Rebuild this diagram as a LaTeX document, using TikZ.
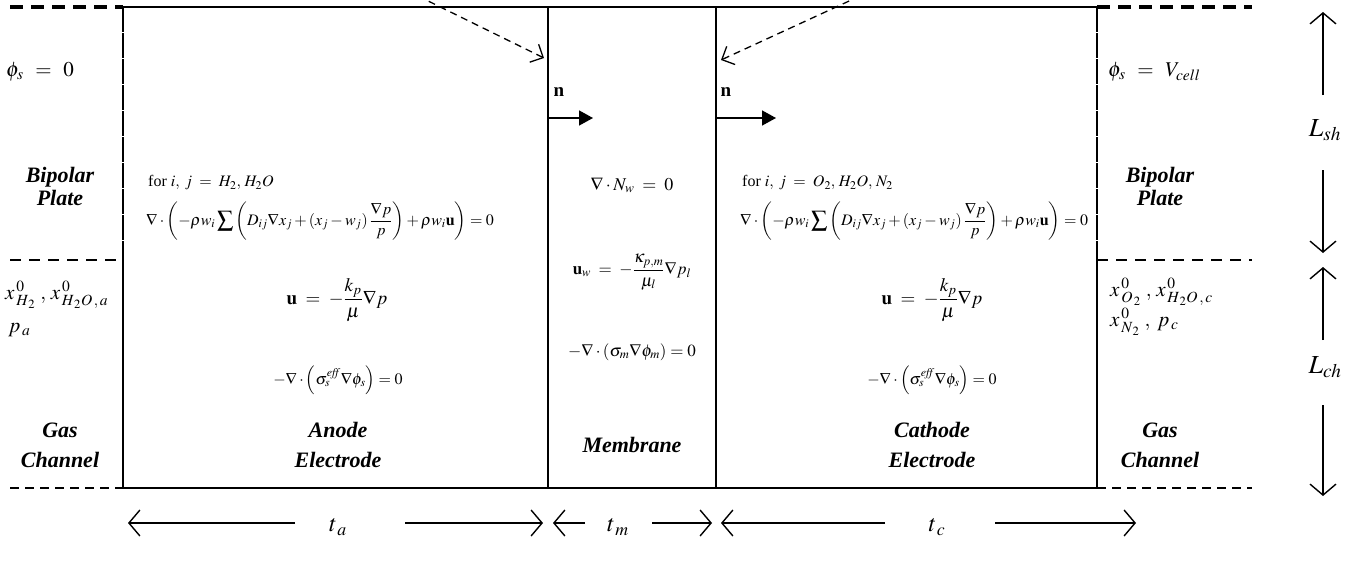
\documentclass[tikz,border=0pt]{standalone}
\usepackage{mathptmx}
\usepackage{fontspec}
\setmainfont{Liberation Serif}
\usetikzlibrary{arrows.meta}
\begin{document}
\begin{tikzpicture}[x=1pt,y=-1pt,
  lbl/.style={font=\fontsize{22}{23}\selectfont\bfseries\itshape, align=center, inner sep=0pt},
  lbllow/.style={font=\fontsize{22}{30}\selectfont\bfseries\itshape, align=center, inner sep=0pt},
  eqn/.style={font=\fontsize{16}{18}\selectfont, inner sep=0pt},
  bc/.style={font=\fontsize{21}{24}\selectfont, inner sep=0pt, anchor=west},
  dimlbl/.style={font=\fontsize{24}{26}\selectfont, inner sep=0pt},
  dimarrow/.style={line width=1.8pt, -{Straight Barb[length=11pt,width=26pt,line width=1.4pt]}},
  ptr/.style={line width=1.3pt, dash pattern=on 7pt off 5pt, -{Straight Barb[length=10pt,width=20pt,line width=1.3pt]}},
  normal/.style={line width=1.5pt, -{Triangle[length=14pt,width=15pt]}},
  wall/.style={line width=2pt},
  thinwall/.style={line width=2pt, dash pattern=on 25pt off 1pt},
  topdash/.style={line width=3.5pt, dash pattern=on 13pt off 8pt},
  middash/.style={line width=1.8pt, dash pattern=on 11pt off 8pt},
  botdash/.style={line width=1.3pt, dash pattern=on 9pt off 6pt}]
\useasboundingbox (0,0) rectangle (1353,563);

% frame coordinates
\coordinate (TL) at (123,7);
\coordinate (TR) at (1097,7);
\coordinate (ML) at (123,260);
\coordinate (MR) at (1097,260);
\coordinate (BL) at (123,488);
\coordinate (BR) at (1097,488);
\coordinate (M1T) at (548,7);
\coordinate (M1B) at (548,488);
\coordinate (M2T) at (716,7);
\coordinate (M2B) at (716,488);

\draw[wall] (TL) -- (TR);
\draw[wall] (ML) -- (BL) -- (BR) -- (MR);
\draw[thinwall] (TL) -- (ML);
\draw[thinwall] (TR) -- (MR);
\draw[wall] (M1T) -- (M1B);
\draw[wall] (M2T) -- (M2B);

% outside dashed lines
\coordinate (LT0) at (10,7);
\coordinate (RT0) at (1252,7);
\coordinate (LM0) at (10,260);
\coordinate (RM0) at (1252,260);
\coordinate (LB0) at (10,488);
\coordinate (RB0) at (1252,488);
\draw[topdash] (LT0) -- (TL);
\draw[topdash] (TR) -- (RT0);
\draw[middash] (LM0) -- (ML);
\draw[middash] (MR) -- (RM0);
\draw[botdash] (LB0) -- (BL);
\draw[botdash] (BR) -- (RB0);

% dashed pointers from above
\coordinate (S1) at (418,-4);
\coordinate (E1) at (544,58);
\coordinate (S2) at (860,-4);
\coordinate (E2) at (721,60);
\draw[ptr] (S1) -- (E1);
\draw[ptr] (S2) -- (E2);

% normal vectors
\node[font=\fontsize{19}{20}\selectfont\bfseries, inner sep=0pt] (n1) at (559,92) {n};
\node[font=\fontsize{19}{20}\selectfont\bfseries, inner sep=0pt] (n2) at (726,92) {n};
\coordinate (N1a) at (548,118);
\coordinate (N1b) at (593,118);
\coordinate (N2a) at (716,118);
\coordinate (N2b) at (776,118);
\draw[normal] (N1a) -- (N1b);
\draw[normal] (N2a) -- (N2b);

% left labels
\node[bc] (phil) at (6,72) {$\phi_s\;\, =\;\, 0$};
\node[lbl] (bpl) at (60,186) {Bipolar\\Plate};
\node[bc] (xl) at (5,295) {$x^{\,0}_{\,H_{\,2}}\;,\, x^{\,0}_{\,H_{\,2}O\,,\,a}$};
\node[bc] (pal) at (8,330) {$p_{\,a}$};
\node[lbllow] (gcl) at (60,445) {Gas\\Channel};

% right labels
\node[bc] (phir) at (1108,72) {$\phi_s\;\, =\;\, V_{cell}$};
\node[lbl] (bpr) at (1160,186) {Bipolar\\Plate};
\node[bc] (xr1) at (1110,292) {$x^{\,0}_{\,O_{\,2}}\;,\, x^{\,0}_{\,H_{\,2}O\,,\,c}$};
\node[bc] (xr2) at (1110,322) {$x^{\,0}_{\,N_{\,2}}\;,\; p_{\,c}$};
\node[lbllow] (gcr) at (1160,445) {Gas\\Channel};

% anode
\node[eqn, anchor=west] (afor) at (148,183) {for $i,\; j \;=\; H_2,\, H_2O$};
\node[eqn, anchor=west] (aeq) at (146,221) {$\displaystyle \nabla\cdot\left(-\rho w_i\sum\left(D_{ij}\nabla x_j+\left(x_j-w_j\right)\frac{\nabla p}{p}\right)+\rho w_i\mathbf{u}\right)=0$};
\node[eqn, font=\fontsize{19}{21}\selectfont] (au) at (337,300) {$\displaystyle \mathbf{u}\;=\;-\frac{k_p}{\mu}\nabla p$};
\node[eqn, font=\fontsize{16}{18}\selectfont] (as) at (338,380) {$-\nabla\cdot\left(\sigma_s^{\mathit{eff}}\nabla\phi_s\right)=0$};
\node[lbllow] (anode) at (338,445) {Anode\\Electrode};

% membrane
\node[eqn, font=\fontsize{18}{20}\selectfont] (mn) at (632,185) {$\nabla\cdot N_w\;=\;0$};
\node[eqn, font=\fontsize{17}{19}\selectfont] (mu) at (632,272) {$\displaystyle \mathbf{u}_w\;=\;-\frac{\kappa_{p,m}}{\mu_l}\nabla p_l$};
\node[eqn, font=\fontsize{17}{19}\selectfont] (ms) at (632,352) {$-\nabla\cdot\left(\sigma_m\nabla\phi_m\right)=0$};
\node[lbllow] (mem) at (632,445) {Membrane};

% cathode
\node[eqn, anchor=west] (cfor) at (742,183) {for $i,\; j \;=\; O_2,\, H_2O,\, N_2$};
\node[eqn, anchor=west] (ceq) at (740,221) {$\displaystyle \nabla\cdot\left(-\rho w_i\sum\left(D_{ij}\nabla x_j+\left(x_j-w_j\right)\frac{\nabla p}{p}\right)+\rho w_i\mathbf{u}\right)=0$};
\node[eqn, font=\fontsize{19}{21}\selectfont] (cu) at (932,300) {$\displaystyle \mathbf{u}\;=\;-\frac{k_p}{\mu}\nabla p$};
\node[eqn, font=\fontsize{16}{18}\selectfont] (cs) at (932,380) {$-\nabla\cdot\left(\sigma_s^{\mathit{eff}}\nabla\phi_s\right)=0$};
\node[lbllow] (cath) at (932,445) {Cathode\\Electrode};

% thickness dimensions
\node[dimlbl] (ta) at (338,527) {$t_{\,a}$};
\node[dimlbl] (tm) at (618,527) {$t_{\,m}$};
\node[dimlbl] (tc) at (937,527) {$t_{\,c}$};
\coordinate (ta1) at (295,523); \coordinate (ta1e) at (128,523);
\coordinate (ta2) at (405,523); \coordinate (ta2e) at (543,523);
\coordinate (tm1) at (585,523); \coordinate (tm1e) at (553,523);
\coordinate (tm2) at (652,523); \coordinate (tm2e) at (712,523);
\coordinate (tc1) at (885,523); \coordinate (tc1e) at (721,523);
\coordinate (tc2) at (995,523); \coordinate (tc2e) at (1136,523);
\draw[dimarrow] (ta1) -- (ta1e);
\draw[dimarrow] (ta2) -- (ta2e);
\draw[dimarrow] (tm1) -- (tm1e);
\draw[dimarrow] (tm2) -- (tm2e);
\draw[dimarrow] (tc1) -- (tc1e);
\draw[dimarrow] (tc2) -- (tc2e);

% height dimensions
\node[dimlbl, font=\fontsize{26}{28}\selectfont] (lsh) at (1325,130) {$L_{sh}$};
\node[dimlbl, font=\fontsize{26}{28}\selectfont] (lch) at (1325,367) {$L_{ch}$};
\coordinate (sh1) at (1323,95);  \coordinate (sh1e) at (1323,12);
\coordinate (sh2) at (1323,170); \coordinate (sh2e) at (1323,253);
\coordinate (ch1) at (1323,340); \coordinate (ch1e) at (1323,267);
\coordinate (ch2) at (1323,405); \coordinate (ch2e) at (1323,496);
\draw[dimarrow] (sh1) -- (sh1e);
\draw[dimarrow] (sh2) -- (sh2e);
\draw[dimarrow] (ch1) -- (ch1e);
\draw[dimarrow] (ch2) -- (ch2e);
\end{tikzpicture}
\end{document}
